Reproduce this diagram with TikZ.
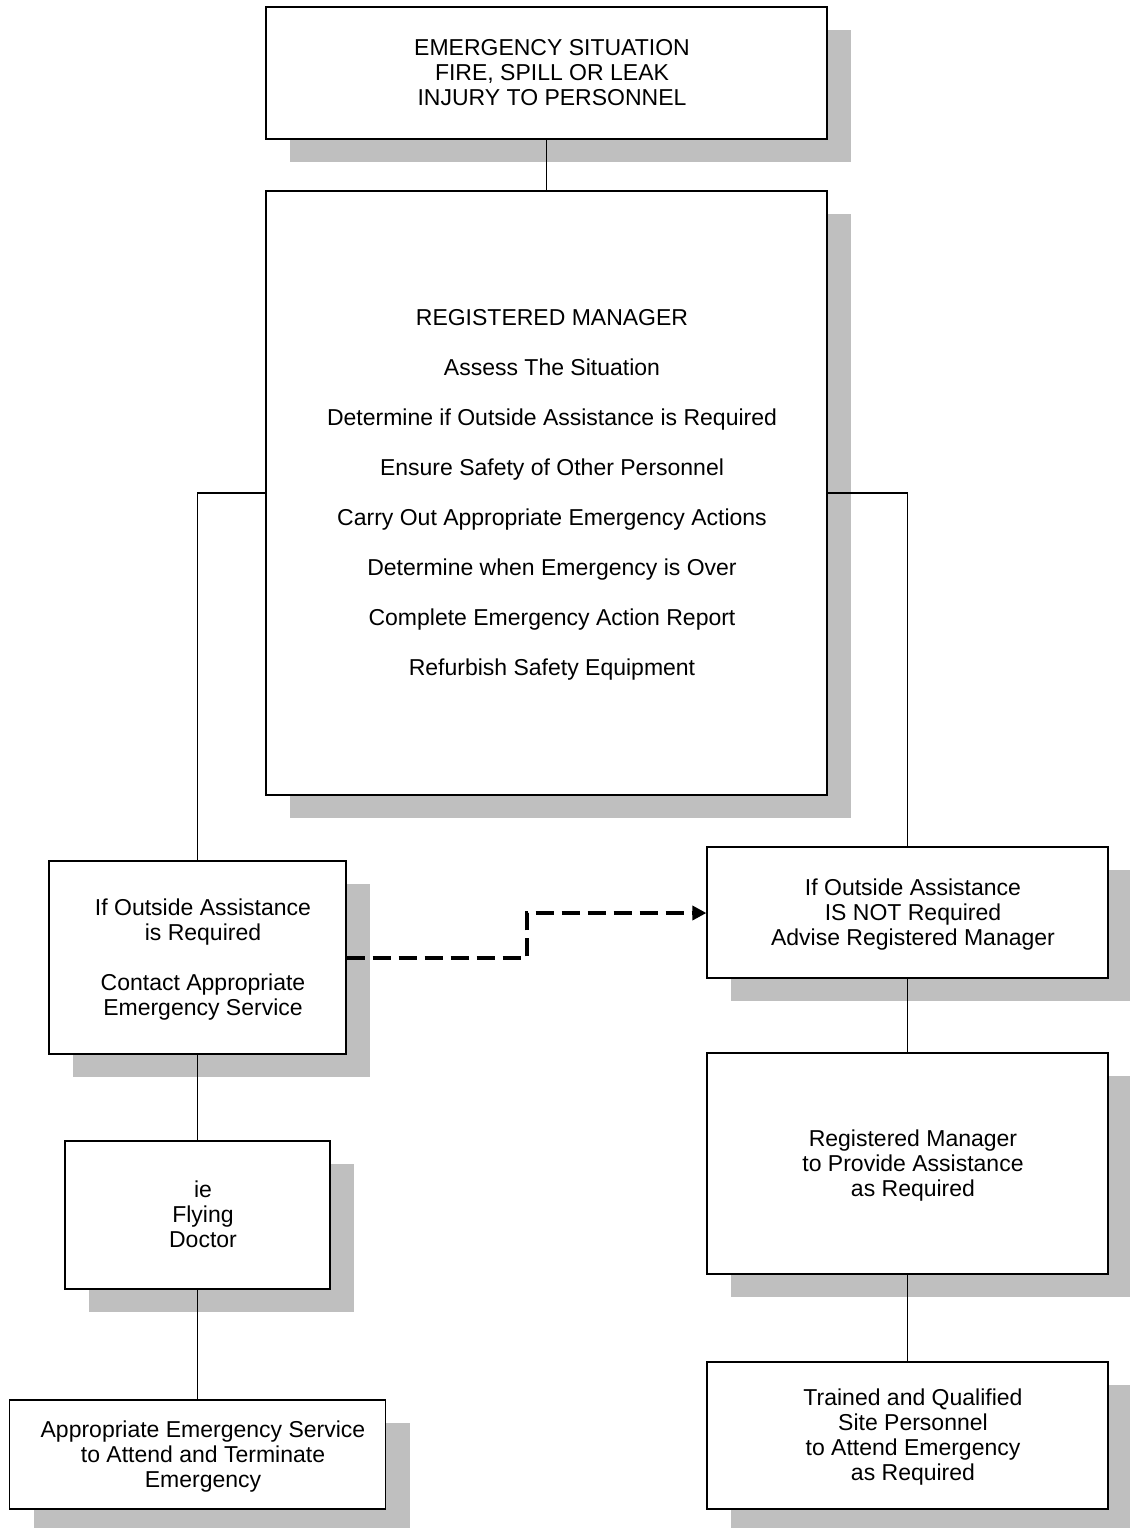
\documentclass[tikz,border=0pt]{standalone}
\usepackage{fontspec}
\setmainfont{Liberation Sans}
\usetikzlibrary{shadows,arrows.meta}
\definecolor{shadowgray}{RGB}{191,191,191}
\newcommand{\boxtext}[1]{\hspace*{5.5pt}\raisebox{0pt}[\dimexpr\height+2.5pt\relax][\depth]{\begin{tabular}{@{}c@{}}#1\end{tabular}}}
\tikzset{
  box/.style={draw=black, line width=0.6pt, fill=white, inner sep=0pt,
    font=\fontsize{11.5}{12.5}\selectfont,
    drop shadow={shadow xshift=12pt, shadow yshift=-11.5pt, opacity=1, fill=shadowgray}},
  conn/.style={draw=black, line width=0.55pt},
  dasharrow/.style={draw=black, line width=1.7pt, dash pattern=on 9pt off 4pt,
    -{Triangle[length=7pt,width=7pt]}}
}
\begin{document}
\begin{tikzpicture}[x=0.5pt,y=-0.5pt]
\useasboundingbox (0,0) rectangle (1130,1528);
\node[box, minimum width=280.5pt, minimum height=66pt] (top) at (546.5,73)
  {\boxtext{EMERGENCY SITUATION\\FIRE, SPILL OR LEAK\\INJURY TO PERSONNEL}};
\node[box, minimum width=280.5pt, minimum height=302pt] (rm) at (546.5,493)
  {\boxtext{REGISTERED MANAGER\\[12.5pt]Assess The Situation\\[12.5pt]Determine if Outside Assistance is Required\\[12.5pt]Ensure Safety of Other Personnel\\[12.5pt]Carry Out Appropriate Emergency Actions\\[12.5pt]Determine when Emergency is Over\\[12.5pt]Complete Emergency Action Report\\[12.5pt]Refurbish Safety Equipment}};
\node[box, minimum width=148.5pt, minimum height=96.5pt] (l1) at (197.5,957.5)
  {\boxtext{If Outside Assistance\\is Required\\[12.5pt]Contact Appropriate\\Emergency Service}};
\node[box, minimum width=132.5pt, minimum height=74pt] (l2) at (197.5,1215)
  {\boxtext{ie\\Flying\\Doctor}};
\node[box, minimum width=188pt, minimum height=54.5pt] (l3) at (197.5,1454.5)
  {\boxtext{Appropriate Emergency Service\\to Attend and Terminate\\Emergency}};
\node[box, minimum width=200.5pt, minimum height=65.5pt] (r1) at (907.5,912.5)
  {\boxtext{If Outside Assistance\\IS NOT Required\\Advise Registered Manager}};
\node[box, minimum width=200.5pt, minimum height=110.5pt] (r2) at (907.5,1163.5)
  {\boxtext{Registered Manager\\to Provide Assistance\\as Required}};
\node[box, minimum width=200.5pt, minimum height=73.5pt] (r3) at (907.5,1435.5)
  {\boxtext{Trained and Qualified\\Site Personnel\\to Attend Emergency\\as Required}};
\coordinate (bend1) at (527,958);
\coordinate (bend2) at (527,913);
\draw[conn] (top.south) -- (rm.north);
\draw[conn] (rm.west) -| (l1.north);
\draw[conn] (rm.east) -| (r1.north);
\draw[conn] (l1.south) -- (l2.north);
\draw[conn] (l2.south) -- (l3.north);
\draw[conn] (r1.south) -- (r2.north);
\draw[conn] (r2.south) -- (r3.north);
\draw[dasharrow] (l1.east |- bend1) -- (bend1) -- (bend2) -- (r1.west |- bend2);
\end{tikzpicture}
\end{document}
